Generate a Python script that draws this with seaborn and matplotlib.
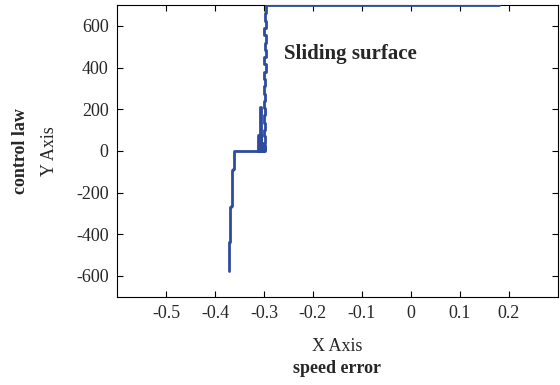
import numpy as np
import pandas as pd
import seaborn as sns
import matplotlib.pyplot as plt

# trajectory of the control law vs speed error
# top of the surface, then chattering down along s = -0.3, then the reaching phase
speed_error = [0.18, -0.296,
               -0.296, -0.298, -0.298, -0.296, -0.296, -0.299, -0.299, -0.296,
               -0.296, -0.298, -0.298, -0.296, -0.296, -0.299, -0.299, -0.296,
               -0.296, -0.299, -0.299, -0.297, -0.297, -0.300, -0.300, -0.297,
               -0.297, -0.299, -0.299, -0.297, -0.297, -0.300, -0.300, -0.297,
               -0.297, -0.300, -0.300, -0.298, -0.298, -0.301, -0.301, -0.298,
               -0.298, -0.301, -0.301, -0.298, -0.298, -0.302, -0.302,
               -0.309, -0.309, -0.306, -0.306, -0.313, -0.313, -0.307, -0.307,
               -0.362, -0.362, -0.364, -0.364, -0.366, -0.366, -0.368, -0.368,
               -0.369, -0.369, -0.371, -0.371, -0.372, -0.372]
control_law = [700, 700,
               660, 660, 625, 625, 590, 590, 555, 555,
               520, 520, 485, 485, 450, 450, 415, 415,
               380, 380, 345, 345, 310, 310, 275, 275,
               240, 240, 205, 205, 170, 170, 135, 135,
               100, 100, 70, 70, 40, 40, 15, 15,
               0, 0, 30, 30, 10, 10, 0,
               0, 210, 210, 0, 0, 75, 75, 0,
               0, -86, -86, -90, -90, -264, -264, -270,
               -270, -436, -436, -440, -440, -575]

xticks = [-0.5, -0.4, -0.3, -0.2, -0.1, 0, 0.1, 0.2]
xtick_labels = ["-0.5", "-0.4", "-0.3", "-0.2", "-0.1", "0", "0.1", "0.2"]
yticks = [-600, -400, -200, 0, 200, 400, 600]
ytick_labels = ["-600", "-400", "-200", "0", "200", "400", "600"]

df = pd.DataFrame({"speed_error": speed_error, "control_law": control_law})

sns.set_style("ticks")
plt.rcParams['font.family'] = ['Liberation Serif', 'DejaVu Serif']
plt.rcParams['axes.unicode_minus'] = False

fig = plt.figure(figsize=(5.6, 3.85), dpi=100)
ax = fig.add_axes([0.209, 0.229, 0.787, 0.758])

sns.lineplot(data=df, x="speed_error", y="control_law", sort=False, estimator=None,
             color="#2e4c9e", linewidth=2.0, zorder=3, ax=ax)

ax.set_xlim(-0.6, 0.3)
ax.set_ylim(-700, 700)
ax.set_xticks(xticks)
ax.set_xticklabels(xtick_labels, fontsize=13)
ax.set_yticks(yticks)
ax.set_yticklabels(ytick_labels, fontsize=13)
ax.tick_params(direction="in", length=4, width=0.8, top=True, right=True,
               color="black", pad=6)
for s in ax.spines.values():
    s.set_linewidth(0.8)
    s.set_color("black")

ax.set_xlabel("")
ax.set_ylabel("")
fig.text(0.602, 0.099, "X Axis", ha="center", va="center", fontsize=13)
fig.text(0.602, 0.044, "speed error", ha="center", va="center", fontsize=13, fontweight="bold")
fig.text(0.089, 0.608, "Y Axis", ha="center", va="center", rotation=90, fontsize=13)
fig.text(0.036, 0.608, "control law", ha="center", va="center", rotation=90, fontsize=13, fontweight="bold")

ax.text(-0.260, 465, "Sliding surface", ha="left", va="center", fontsize=15, fontweight="bold")

fig.savefig("out.png", dpi=100)
